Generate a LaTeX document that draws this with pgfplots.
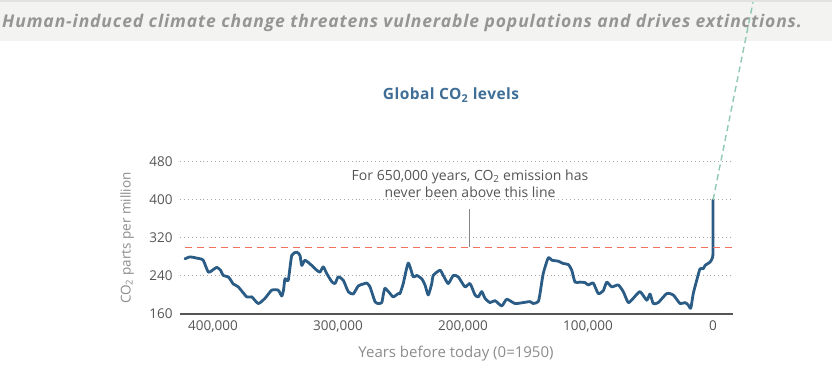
\documentclass[border=0pt]{standalone}
\usepackage{pgfplots}
\pgfplotsset{compat=1.18}
\usepackage{fontspec}
\setmainfont{Open Sans}
\definecolor{curve}{HTML}{2B5C85}
\definecolor{coral}{HTML}{F2705E}
\definecolor{greenl}{HTML}{8FC9B0}
\definecolor{titleblue}{HTML}{3F6E96}
\definecolor{gridc}{HTML}{A8A8A8}
\definecolor{axisc}{HTML}{555555}
\definecolor{tickc}{HTML}{555555}
\definecolor{labc}{HTML}{8C8C8C}
\definecolor{barbg}{HTML}{F3F3F1}
\definecolor{barline}{HTML}{E2E2E0}
\definecolor{bartext}{HTML}{959595}
\begin{document}
\begin{tikzpicture}[x=1pt,y=1pt]
\useasboundingbox (0,0) rectangle (832,375);
\fill[barbg] (0,334) rectangle (832,375);
\draw[barline,line width=1.5pt] (0,374.2) -- (832,374.2);
\node[anchor=base west,inner sep=0pt,text=bartext,font=\fontsize{17.5}{20}\selectfont\addfontfeatures{LetterSpace=5}\bfseries\itshape] at (2,347) {Human-induced climate change threatens vulnerable populations and drives extinctions.};
\node[anchor=center,inner sep=0pt,text=titleblue,font=\fontsize{15.5}{18}\selectfont\addfontfeatures{LetterSpace=3}\bfseries] at (451,280) {Global CO\textsubscript{2} levels};
\begin{axis}[
  at={(180pt,61pt)}, anchor=south west,
  width=553pt, height=152.3pt, scale only axis,
  xmin=-426400, xmax=16000, ymin=160, ymax=480,
  clip=false,
  axis lines=left,
  axis x line*=bottom,
  x axis line style={-, draw=axisc, line width=1.4pt},
  y axis line style={draw=none},
  major tick length=0pt,
  xtick={-400000,-300000,-200000,-100000,0},
  xticklabels={{400,000},{300,000},{200,000},{100,000},0},
  ytick={160,240,320,400,480},
  yticklabels={160,240,320,400,480},
  scaled x ticks=false,
  tick label style={text=tickc,font=\fontsize{13.5}{16}\selectfont},
  xticklabel style={yshift=-3pt},
  yticklabel style={xshift=-4pt},
  ymajorgrids,
  grid style={gridc, line width=0.9pt, dash pattern=on 0.9pt off 3pt},
]
\addplot[draw=curve, line width=2.8pt, line join=round, line cap=round, smooth, tension=0.35] coordinates {
(-422400,276) (-418400,280) (-414000,278) (-410400,276) (-407800,273) (-403800,248) (-401000,251) (-397000,258) (-394000,252) (-391800,241) (-387800,238) (-385500,230) (-383800,223) (-379800,217) (-373000,196) (-369000,196) (-363800,182) (-358400,193) (-353000,210) (-347800,210) (-345000,198) (-343600,210) (-342400,234) (-339800,231) (-337000,283) (-333000,290) (-330400,283) (-329000,262) (-326400,273) (-321000,262) (-317000,252) (-314400,248) (-311800,259) (-309000,245) (-305000,228) (-302400,224) (-299800,238) (-295800,231) (-291800,207) (-287800,202) (-283800,219) (-279800,223) (-277000,225) (-274400,217) (-270400,186) (-267800,182) (-265000,184) (-263800,200) (-262400,214) (-259000,205) (-255800,196) (-251800,203) (-250400,203) (-247800,224) (-243800,267) (-239800,238) (-237000,241) (-233000,234) (-230400,221) (-227800,200) (-225000,224) (-223800,241) (-218400,252) (-215800,241) (-211800,224) (-207800,241) (-203800,238) (-198400,217) (-194400,224) (-190400,200) (-187800,196) (-185000,207) (-182400,193) (-178400,184) (-174400,188) (-169000,177) (-165000,191) (-158400,182) (-151800,184) (-146400,186) (-143800,182) (-139800,186) (-138400,203) (-135800,245) (-131800,278) (-129000,273) (-123800,271) (-119800,266) (-115800,264) (-113000,252) (-110400,227) (-106400,227) (-102400,226) (-99800,221) (-95800,225) (-91800,203) (-87800,209) (-85000,227) (-81000,217) (-75800,221) (-71800,207) (-67800,184) (-63800,193) (-58400,207) (-53000,189) (-50400,202) (-47800,182) (-43800,184) (-37000,203) (-31800,200) (-26400,182) (-22400,184) (-19800,179) (-17800,172) (-15800,203) (-13000,231) (-10400,255) (-7800,255) (-6400,262) (-2400,269) (-800,276) (0,290) (68,400)
};
\addplot[draw=greenl, line width=1.4pt, dash pattern=on 6pt off 4pt] coordinates {(68,400) (32000,815)};
\draw[gridc!80!black, line width=0.8pt] (axis cs:-195200,301) -- (axis cs:-195200,380);
\draw[draw=coral, line width=1.6pt, dash pattern=on 7pt off 5pt] (axis cs:-422400,300) -- (axis cs:16000,300);
\end{axis}
\node[align=center,inner sep=0pt,text=tickc,font=\fontsize{14}{17}\selectfont] at (470,191) {For 650,000 years, CO\textsubscript{2} emission has\\never been above this line};
\node[rotate=90,inner sep=0pt,text=labc,font=\fontsize{13.5}{16}\selectfont] at (127,137) {CO\textsubscript{2} parts per million};
\node[inner sep=0pt,text=labc,font=\fontsize{15}{18}\selectfont] at (456,21) {Years before today (0=1950)};
\end{tikzpicture}
\end{document}
